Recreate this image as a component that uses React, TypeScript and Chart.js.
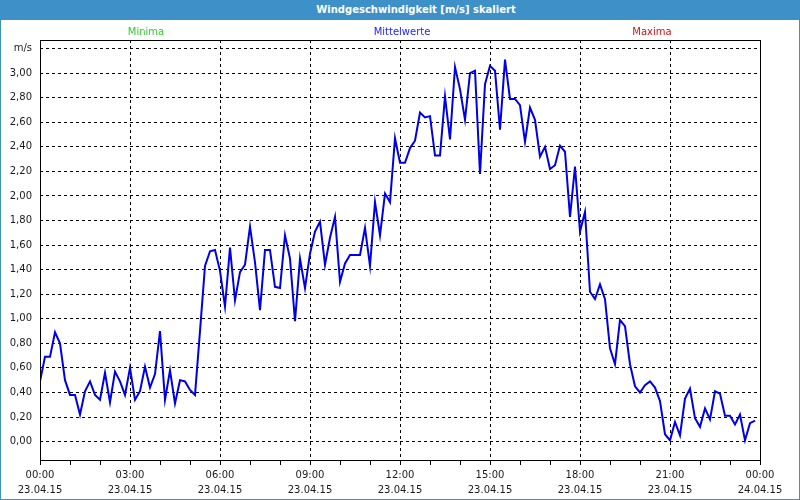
import React, { useEffect, useRef } from "react";
import { Chart, registerables } from "chart.js";

Chart.register(...registerables);

const chartTitle = "Windgeschwindigkeit [m/s] skaliert";
const seriesNames = ["Minima", "Mittelwerte", "Maxima"];
const seriesColors = ["#2ecc2e", "#1a1aff", "#c81414"];
const seriesLabelCenters = [146, 402, 652];

// 10-minute means, 23.04.15 00:00 .. 23:50
const sampleMinutes = 10;
const meanSpeed = [
  0.49, 0.69, 0.69, 0.89, 0.80, 0.50, 0.38, 0.38, 0.22, 0.41,
  0.49, 0.38, 0.34, 0.56, 0.32, 0.57, 0.49, 0.38, 0.60, 0.34,
  0.41, 0.61, 0.44, 0.55, 0.90, 0.34, 0.58, 0.31, 0.50, 0.49,
  0.42, 0.38, 0.90, 1.43, 1.55, 1.56, 1.39, 1.10, 1.58, 1.15,
  1.38, 1.44, 1.75, 1.46, 1.07, 1.56, 1.56, 1.26, 1.25,
  1.68, 1.49, 0.98, 1.49, 1.25, 1.53, 1.71, 1.79, 1.44, 1.66,
  1.83, 1.30, 1.45, 1.52, 1.52, 1.52, 1.74, 1.43, 1.95, 1.68,
  2.02, 1.95, 2.47, 2.27, 2.27, 2.39, 2.45, 2.68, 2.64, 2.65,
  2.33, 2.33, 2.81, 2.46, 3.05, 2.87, 2.62, 3.00, 3.02, 2.18,
  2.91, 3.06, 3.02, 2.54, 3.11, 2.79, 2.79, 2.74,
  2.44, 2.72, 2.62, 2.32, 2.40, 2.22, 2.25, 2.41, 2.36, 1.83,
  2.24, 1.71, 1.87, 1.22, 1.16, 1.28, 1.16, 0.76, 0.63, 0.99,
  0.94, 0.63, 0.45, 0.40, 0.46, 0.49, 0.44, 0.33, 0.06, 0.01,
  0.16, 0.05, 0.35, 0.43, 0.19, 0.12, 0.27, 0.18, 0.41, 0.39,
  0.21, 0.21, 0.14, 0.22, 0.01, 0.15, 0.17,
];

const yMin = -0.15;
const yMax = 3.27;
const yTickValues = [0, 0.2, 0.4, 0.6, 0.8, 1.0, 1.2, 1.4, 1.6, 1.8, 2.0, 2.2, 2.4, 2.6, 2.8, 3.0, 3.2];
const yTickLabels = ["0,00", "0,20", "0,40", "0,60", "0,80", "1,00", "1,20", "1,40", "1,60", "1,80", "2,00", "2,20", "2,40", "2,60", "2,80", "3,00", "m/s"];

const xMin = 0;
const xMax = 1440;
const xTickMinutes = [0, 60, 120, 180, 240, 300, 360, 420, 480, 540, 600, 660, 720, 780, 840, 900, 960, 1020, 1080, 1140, 1200, 1260, 1320, 1380, 1440];
const xLabelMinutes = [0, 180, 360, 540, 720, 900, 1080, 1260, 1440];
const xTimeLabels = ["00:00", "03:00", "06:00", "09:00", "12:00", "15:00", "18:00", "21:00", "00:00"];
const xDateLabels = ["23.04.15", "23.04.15", "23.04.15", "23.04.15", "23.04.15", "23.04.15", "23.04.15", "23.04.15", "24.04.15"];

const FONT = "'DejaVu Sans', sans-serif";
const FRAME_BLUE = "#3d90c8";

const frameRectPlugin = {
  id: "frameRect",
  afterDraw(chart: any) {
    const { ctx, chartArea } = chart;
    ctx.save();
    ctx.strokeStyle = "#000";
    ctx.lineWidth = 1;
    ctx.setLineDash([]);
    ctx.strokeRect(
      Math.round(chartArea.left) + 0.5,
      Math.round(chartArea.top) + 0.5,
      Math.round(chartArea.right - chartArea.left),
      Math.round(chartArea.bottom - chartArea.top)
    );
    ctx.restore();
  },
};

export default function App() {
  const canvasRef = useRef<HTMLCanvasElement | null>(null);

  useEffect(() => {
    const canvas = canvasRef.current;
    if (!canvas) return;
    const points = meanSpeed.map((v, i) => ({ x: i * sampleMinutes, y: v }));
    const chart = new Chart(canvas, {
      type: "line",
      data: {
        datasets: [
          {
            label: seriesNames[1],
            data: points,
            borderColor: "#0000e6",
            borderWidth: 2,
            pointRadius: 0,
            tension: 0,
            fill: false,
          },
        ],
      },
      options: {
        responsive: false,
        animation: false,
        devicePixelRatio: 1,
        layout: { padding: { left: 0, top: 40, right: 40, bottom: 0 } },
        plugins: {
          legend: { display: false },
          title: { display: false },
          tooltip: { enabled: false },
        },
        scales: {
          x: {
            type: "linear",
            min: xMin,
            max: xMax,
            afterFit: (scale: any) => {
              scale.height = 40;
            },
            afterBuildTicks: (scale: any) => {
              scale.ticks = xTickMinutes.map((v) => ({ value: v }));
            },
            grid: {
              color: (ctx: any) => {
                const v = ctx.tick ? ctx.tick.value : -1;
                return xLabelMinutes.includes(v) && v !== xMin && v !== xMax ? "#000" : "rgba(0,0,0,0)";
              },
              tickColor: "#000",
              tickLength: 5,
              lineWidth: 1,
            },
            border: { display: false, dash: [3, 3] },
            ticks: {
              autoSkip: false,
              maxRotation: 0,
              minRotation: 0,
              padding: 3,
              color: "#1a1a1a",
              font: { family: FONT, size: 10, lineHeight: 1.5 },
              callback: (value: any) => {
                const idx = xLabelMinutes.indexOf(Number(value));
                return idx >= 0 ? [xTimeLabels[idx], xDateLabels[idx]] : "";
              },
            },
          },
          y: {
            type: "linear",
            min: yMin,
            max: yMax,
            afterFit: (scale: any) => {
              scale.width = 40;
            },
            afterBuildTicks: (scale: any) => {
              scale.ticks = yTickValues.map((v) => ({ value: v }));
            },
            grid: {
              color: "#000",
              drawTicks: false,
              lineWidth: 1,
            },
            border: { display: false, dash: [3, 3] },
            ticks: {
              padding: 8,
              color: "#1a1a1a",
              font: { family: FONT, size: 10 },
              callback: (value: any) => {
                const idx = yTickValues.findIndex((t) => Math.abs(t - Number(value)) < 1e-6);
                return idx >= 0 ? yTickLabels[idx] : "";
              },
            },
          },
        },
      },
      plugins: [frameRectPlugin],
    });
    return () => chart.destroy();
  }, []);

  return (
    <div
      style={{
        position: "fixed",
        left: 0,
        top: 0,
        width: 800,
        height: 500,
        background: "#fff",
        overflow: "hidden",
      }}
    >
      <canvas ref={canvasRef} width={800} height={500} style={{ position: "absolute", left: 0, top: 0 }} />
      <div
        style={{
          position: "absolute",
          left: 0,
          top: 0,
          width: 800,
          height: 20,
          background: FRAME_BLUE,
        }}
      />
      <div
        style={{
          position: "absolute",
          left: 216,
          top: 0,
          width: 400,
          height: 20,
          color: "#fff",
          fontFamily: FONT,
          fontWeight: "bold",
          fontSize: 10,
          lineHeight: "20px",
          textAlign: "center",
        }}
      >
        {chartTitle}
      </div>
      <div
        style={{
          position: "absolute",
          left: 0,
          top: 0,
          width: 800,
          height: 500,
          boxSizing: "border-box",
          border: `1px solid ${FRAME_BLUE}`,
          pointerEvents: "none",
        }}
      />
      {seriesNames.map((name, i) => (
        <div
          key={name}
          style={{
            position: "absolute",
            left: seriesLabelCenters[i] - 60,
            width: 120,
            top: 25,
            textAlign: "center",
            fontFamily: FONT,
            fontSize: 10,
            lineHeight: "14px",
            color: seriesColors[i],
          }}
        >
          {name}
        </div>
      ))}
    </div>
  );
}
